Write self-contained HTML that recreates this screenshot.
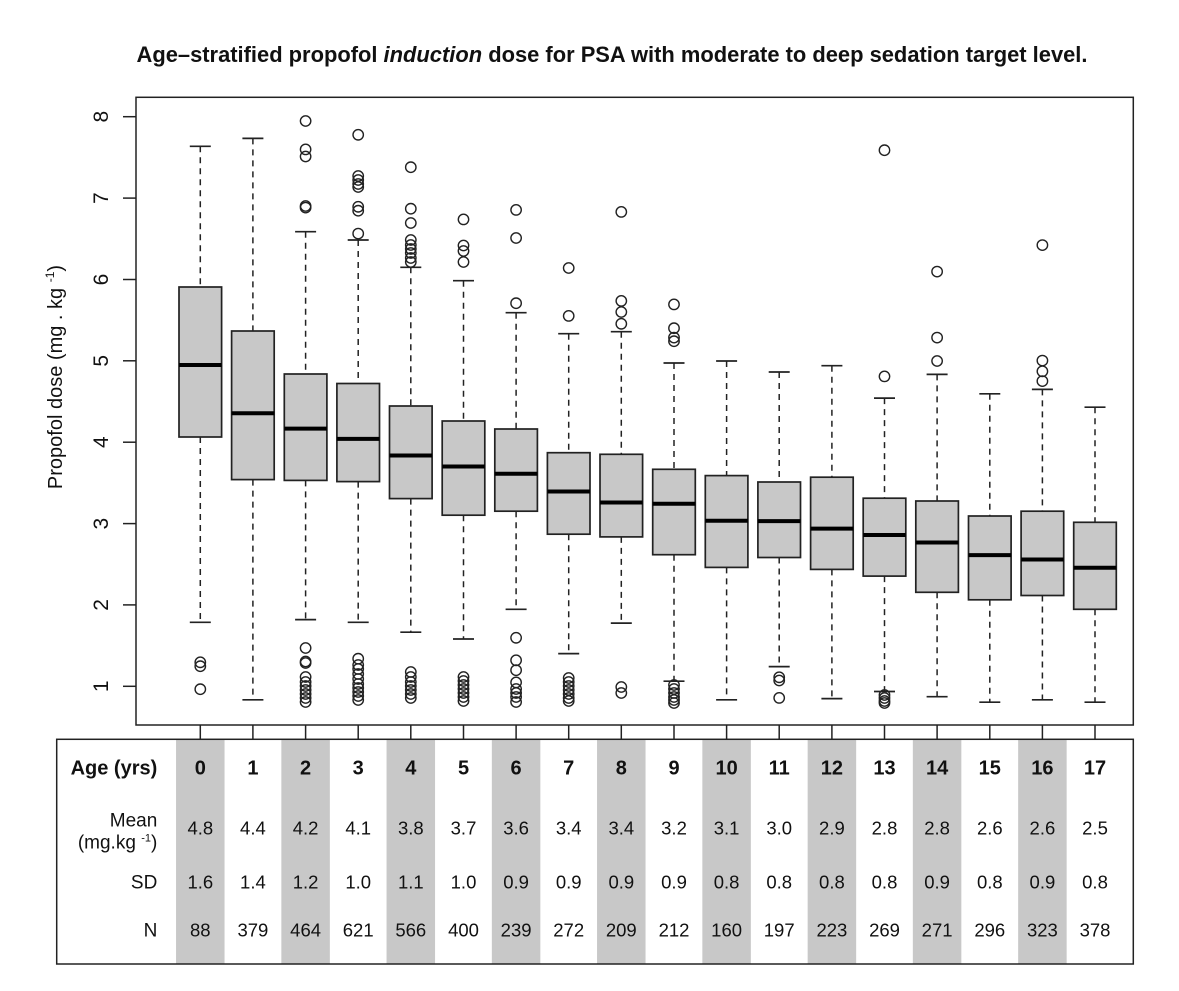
<!DOCTYPE html>
<html>
<head>
<meta charset="utf-8">
<style>
html,body{margin:0;padding:0;background:#fff;}
svg{display:block;font-family:"Liberation Sans",Arial,sans-serif;}
.w{stroke:#222;stroke-width:1.5;stroke-dasharray:6 5;fill:none}
.c{stroke:#222;stroke-width:1.7}
.b{fill:#c8c8c8;stroke:#222;stroke-width:1.7}
.m{stroke:#000;stroke-width:4}
circle{fill:none;stroke:#222;stroke-width:1.4}
.ax{stroke:#222;stroke-width:1.5;fill:none}
.hd{font-weight:bold;font-size:20px;fill:#111;text-anchor:middle}
.v{font-size:18.5px;fill:#111;text-anchor:middle}
.lb{font-size:19px;fill:#111;text-anchor:end}
</style>
</head>
<body>
<svg width="1179" height="991" viewBox="0 0 1179 991" xmlns="http://www.w3.org/2000/svg">
<rect x="0" y="0" width="1179" height="991" fill="#fff"/>

<!-- Title -->
<text x="612" y="62" text-anchor="middle" font-size="22" font-weight="bold" fill="#111" textLength="951" lengthAdjust="spacingAndGlyphs">Age–stratified propofol <tspan font-style="italic">induction</tspan> dose for PSA with moderate to deep sedation target level.</text>

<!-- Y label -->
<text transform="translate(62,377) rotate(-90)" text-anchor="middle" font-size="20" fill="#111">Propofol dose (mg . kg <tspan font-size="12" dy="-8">-1</tspan><tspan dy="8">)</tspan></text>

<!-- Y axis ticks -->
<g class="ax">
<line x1="123" x2="136" y1="686.3" y2="686.3"/>
<line x1="123" x2="136" y1="604.9" y2="604.9"/>
<line x1="123" x2="136" y1="523.6" y2="523.6"/>
<line x1="123" x2="136" y1="442.2" y2="442.2"/>
<line x1="123" x2="136" y1="360.8" y2="360.8"/>
<line x1="123" x2="136" y1="279.5" y2="279.5"/>
<line x1="123" x2="136" y1="198.1" y2="198.1"/>
<line x1="123" x2="136" y1="116.7" y2="116.7"/>
</g>
<g font-size="21" fill="#111" text-anchor="middle">
<text transform="translate(108,686.3) rotate(-90)">1</text>
<text transform="translate(108,604.9) rotate(-90)">2</text>
<text transform="translate(108,523.6) rotate(-90)">3</text>
<text transform="translate(108,442.2) rotate(-90)">4</text>
<text transform="translate(108,360.8) rotate(-90)">5</text>
<text transform="translate(108,279.5) rotate(-90)">6</text>
<text transform="translate(108,198.1) rotate(-90)">7</text>
<text transform="translate(108,116.7) rotate(-90)">8</text>
</g>

<!-- Table shaded columns -->
<g fill="#c8c8c8">
<rect x="176.05" y="739.3" width="48.5" height="224.7"/>
<rect x="281.35" y="739.3" width="48.5" height="224.7"/>
<rect x="386.55" y="739.3" width="48.5" height="224.7"/>
<rect x="491.85" y="739.3" width="48.5" height="224.7"/>
<rect x="597.05" y="739.3" width="48.5" height="224.7"/>
<rect x="702.35" y="739.3" width="48.5" height="224.7"/>
<rect x="807.65" y="739.3" width="48.5" height="224.7"/>
<rect x="912.85" y="739.3" width="48.5" height="224.7"/>
<rect x="1018.15" y="739.3" width="48.5" height="224.7"/>
</g>

<!-- X ticks -->
<g class="ax">
<line x1="200.3" x2="200.3" y1="725" y2="739"/>
<line x1="252.9" x2="252.9" y1="725" y2="739"/>
<line x1="305.6" x2="305.6" y1="725" y2="739"/>
<line x1="358.2" x2="358.2" y1="725" y2="739"/>
<line x1="410.8" x2="410.8" y1="725" y2="739"/>
<line x1="463.5" x2="463.5" y1="725" y2="739"/>
<line x1="516.1" x2="516.1" y1="725" y2="739"/>
<line x1="568.7" x2="568.7" y1="725" y2="739"/>
<line x1="621.3" x2="621.3" y1="725" y2="739"/>
<line x1="674.0" x2="674.0" y1="725" y2="739"/>
<line x1="726.6" x2="726.6" y1="725" y2="739"/>
<line x1="779.2" x2="779.2" y1="725" y2="739"/>
<line x1="831.9" x2="831.9" y1="725" y2="739"/>
<line x1="884.5" x2="884.5" y1="725" y2="739"/>
<line x1="937.1" x2="937.1" y1="725" y2="739"/>
<line x1="989.8" x2="989.8" y1="725" y2="739"/>
<line x1="1042.4" x2="1042.4" y1="725" y2="739"/>
<line x1="1095.0" x2="1095.0" y1="725" y2="739"/>
</g>

<!-- Boxes -->
<g transform="translate(200.3,0)">
<line class="w" x1="0" x2="0" y1="146.3" y2="287"/>
<line class="w" x1="0" x2="0" y1="437" y2="622.3"/>
<line class="c" x1="-10.5" x2="10.5" y1="146.3" y2="146.3"/>
<line class="c" x1="-10.5" x2="10.5" y1="622.3" y2="622.3"/>
<rect class="b" x="-21.3" y="287" width="42.6" height="150"/>
<line class="m" x1="-21.3" x2="21.3" y1="365" y2="365"/>
<circle cx="0" cy="662.3" r="5.2"/><circle cx="0" cy="666.2" r="5.2"/><circle cx="0" cy="689.2" r="5.2"/>
</g>
<g transform="translate(252.9,0)">
<line class="w" x1="0" x2="0" y1="138.4" y2="331"/>
<line class="w" x1="0" x2="0" y1="479.6" y2="699.8"/>
<line class="c" x1="-10.5" x2="10.5" y1="138.4" y2="138.4"/>
<line class="c" x1="-10.5" x2="10.5" y1="699.8" y2="699.8"/>
<rect class="b" x="-21.3" y="331" width="42.6" height="148.6"/>
<line class="m" x1="-21.3" x2="21.3" y1="413.2" y2="413.2"/>
</g>
<g transform="translate(305.6,0)">
<line class="w" x1="0" x2="0" y1="231.7" y2="374"/>
<line class="w" x1="0" x2="0" y1="480.4" y2="619.6"/>
<line class="c" x1="-10.5" x2="10.5" y1="231.7" y2="231.7"/>
<line class="c" x1="-10.5" x2="10.5" y1="619.6" y2="619.6"/>
<rect class="b" x="-21.3" y="374" width="42.6" height="106.4"/>
<line class="m" x1="-21.3" x2="21.3" y1="428.6" y2="428.6"/>
<circle cx="0" cy="121" r="5.2"/><circle cx="0" cy="149.4" r="5.2"/><circle cx="0" cy="156.5" r="5.2"/><circle cx="0" cy="206" r="5.2"/><circle cx="0" cy="207.6" r="5.2"/>
<circle cx="0" cy="648" r="5.2"/><circle cx="0" cy="661.5" r="5.2"/><circle cx="0" cy="663" r="5.2"/><circle cx="0" cy="677" r="5.2"/><circle cx="0" cy="682" r="5.2"/><circle cx="0" cy="686" r="5.2"/><circle cx="0" cy="690" r="5.2"/><circle cx="0" cy="694" r="5.2"/><circle cx="0" cy="698" r="5.2"/><circle cx="0" cy="702" r="5.2"/>
</g>
<g transform="translate(358.2,0)">
<line class="w" x1="0" x2="0" y1="240" y2="383.5"/>
<line class="w" x1="0" x2="0" y1="481.6" y2="622.3"/>
<line class="c" x1="-10.5" x2="10.5" y1="240" y2="240"/>
<line class="c" x1="-10.5" x2="10.5" y1="622.3" y2="622.3"/>
<rect class="b" x="-21.3" y="383.5" width="42.6" height="98.1"/>
<line class="m" x1="-21.3" x2="21.3" y1="438.9" y2="438.9"/>
<circle cx="0" cy="134.8" r="5.2"/><circle cx="0" cy="176" r="5.2"/><circle cx="0" cy="180" r="5.2"/><circle cx="0" cy="184" r="5.2"/><circle cx="0" cy="187" r="5.2"/><circle cx="0" cy="206.8" r="5.2"/><circle cx="0" cy="210.7" r="5.2"/><circle cx="0" cy="233.6" r="5.2"/>
<circle cx="0" cy="658.7" r="5.2"/><circle cx="0" cy="665" r="5.2"/><circle cx="0" cy="669" r="5.2"/><circle cx="0" cy="674" r="5.2"/><circle cx="0" cy="679" r="5.2"/><circle cx="0" cy="684" r="5.2"/><circle cx="0" cy="688" r="5.2"/><circle cx="0" cy="692" r="5.2"/><circle cx="0" cy="696" r="5.2"/><circle cx="0" cy="700" r="5.2"/>
</g>
<g transform="translate(410.8,0)">
<line class="w" x1="0" x2="0" y1="267.3" y2="406"/>
<line class="w" x1="0" x2="0" y1="498.6" y2="632.2"/>
<line class="c" x1="-10.5" x2="10.5" y1="267.3" y2="267.3"/>
<line class="c" x1="-10.5" x2="10.5" y1="632.2" y2="632.2"/>
<rect class="b" x="-21.3" y="406" width="42.6" height="92.6"/>
<line class="m" x1="-21.3" x2="21.3" y1="455.5" y2="455.5"/>
<circle cx="0" cy="167.2" r="5.2"/><circle cx="0" cy="208.7" r="5.2"/><circle cx="0" cy="223" r="5.2"/><circle cx="0" cy="240" r="5.2"/><circle cx="0" cy="245" r="5.2"/><circle cx="0" cy="249" r="5.2"/><circle cx="0" cy="253" r="5.2"/><circle cx="0" cy="258" r="5.2"/><circle cx="0" cy="262" r="5.2"/>
<circle cx="0" cy="672" r="5.2"/><circle cx="0" cy="677" r="5.2"/><circle cx="0" cy="682" r="5.2"/><circle cx="0" cy="686" r="5.2"/><circle cx="0" cy="690" r="5.2"/><circle cx="0" cy="694" r="5.2"/><circle cx="0" cy="698" r="5.2"/>
</g>
<g transform="translate(463.5,0)">
<line class="w" x1="0" x2="0" y1="280.7" y2="421"/>
<line class="w" x1="0" x2="0" y1="515.2" y2="639"/>
<line class="c" x1="-10.5" x2="10.5" y1="280.7" y2="280.7"/>
<line class="c" x1="-10.5" x2="10.5" y1="639" y2="639"/>
<rect class="b" x="-21.3" y="421" width="42.6" height="94.2"/>
<line class="m" x1="-21.3" x2="21.3" y1="466.5" y2="466.5"/>
<circle cx="0" cy="219.4" r="5.2"/><circle cx="0" cy="245.5" r="5.2"/><circle cx="0" cy="251" r="5.2"/><circle cx="0" cy="262" r="5.2"/>
<circle cx="0" cy="677" r="5.2"/><circle cx="0" cy="681" r="5.2"/><circle cx="0" cy="685" r="5.2"/><circle cx="0" cy="689" r="5.2"/><circle cx="0" cy="693" r="5.2"/><circle cx="0" cy="697" r="5.2"/><circle cx="0" cy="701" r="5.2"/>
</g>
<g transform="translate(516.1,0)">
<line class="w" x1="0" x2="0" y1="312.7" y2="429"/>
<line class="w" x1="0" x2="0" y1="511.2" y2="609.3"/>
<line class="c" x1="-10.5" x2="10.5" y1="312.7" y2="312.7"/>
<line class="c" x1="-10.5" x2="10.5" y1="609.3" y2="609.3"/>
<rect class="b" x="-21.3" y="429" width="42.6" height="82.2"/>
<line class="m" x1="-21.3" x2="21.3" y1="473.7" y2="473.7"/>
<circle cx="0" cy="209.9" r="5.2"/><circle cx="0" cy="238" r="5.2"/><circle cx="0" cy="303.2" r="5.2"/>
<circle cx="0" cy="637.8" r="5.2"/><circle cx="0" cy="660.3" r="5.2"/><circle cx="0" cy="670.2" r="5.2"/><circle cx="0" cy="682.4" r="5.2"/><circle cx="0" cy="689" r="5.2"/><circle cx="0" cy="693" r="5.2"/><circle cx="0" cy="697" r="5.2"/><circle cx="0" cy="702" r="5.2"/>
</g>
<g transform="translate(568.7,0)">
<line class="w" x1="0" x2="0" y1="333.7" y2="452.7"/>
<line class="w" x1="0" x2="0" y1="534.2" y2="653.6"/>
<line class="c" x1="-10.5" x2="10.5" y1="333.7" y2="333.7"/>
<line class="c" x1="-10.5" x2="10.5" y1="653.6" y2="653.6"/>
<rect class="b" x="-21.3" y="452.7" width="42.6" height="81.5"/>
<line class="m" x1="-21.3" x2="21.3" y1="491.5" y2="491.5"/>
<circle cx="0" cy="268" r="5.2"/><circle cx="0" cy="315.9" r="5.2"/>
<circle cx="0" cy="678" r="5.2"/><circle cx="0" cy="682" r="5.2"/><circle cx="0" cy="686" r="5.2"/><circle cx="0" cy="690" r="5.2"/><circle cx="0" cy="694" r="5.2"/><circle cx="0" cy="698" r="5.2"/><circle cx="0" cy="701" r="5.2"/>
</g>
<g transform="translate(621.3,0)">
<line class="w" x1="0" x2="0" y1="331.7" y2="454.3"/>
<line class="w" x1="0" x2="0" y1="536.9" y2="623.1"/>
<line class="c" x1="-10.5" x2="10.5" y1="331.7" y2="331.7"/>
<line class="c" x1="-10.5" x2="10.5" y1="623.1" y2="623.1"/>
<rect class="b" x="-21.3" y="454.3" width="42.6" height="82.6"/>
<line class="m" x1="-21.3" x2="21.3" y1="502.5" y2="502.5"/>
<circle cx="0" cy="211.9" r="5.2"/><circle cx="0" cy="300.9" r="5.2"/><circle cx="0" cy="312" r="5.2"/><circle cx="0" cy="323.8" r="5.2"/>
<circle cx="0" cy="687" r="5.2"/><circle cx="0" cy="693" r="5.2"/>
</g>
<g transform="translate(674.0,0)">
<line class="w" x1="0" x2="0" y1="363" y2="469.3"/>
<line class="w" x1="0" x2="0" y1="554.7" y2="681.2"/>
<line class="c" x1="-10.5" x2="10.5" y1="363" y2="363"/>
<line class="c" x1="-10.5" x2="10.5" y1="681.2" y2="681.2"/>
<rect class="b" x="-21.3" y="469.3" width="42.6" height="85.4"/>
<line class="m" x1="-21.3" x2="21.3" y1="503.7" y2="503.7"/>
<circle cx="0" cy="304.4" r="5.2"/><circle cx="0" cy="328.2" r="5.2"/><circle cx="0" cy="337.6" r="5.2"/><circle cx="0" cy="341.2" r="5.2"/>
<circle cx="0" cy="685" r="5.2"/><circle cx="0" cy="689" r="5.2"/><circle cx="0" cy="693" r="5.2"/><circle cx="0" cy="697" r="5.2"/><circle cx="0" cy="700" r="5.2"/><circle cx="0" cy="703" r="5.2"/>
</g>
<g transform="translate(726.6,0)">
<line class="w" x1="0" x2="0" y1="361" y2="475.6"/>
<line class="w" x1="0" x2="0" y1="567.4" y2="699.8"/>
<line class="c" x1="-10.5" x2="10.5" y1="361" y2="361"/>
<line class="c" x1="-10.5" x2="10.5" y1="699.8" y2="699.8"/>
<rect class="b" x="-21.3" y="475.6" width="42.6" height="91.8"/>
<line class="m" x1="-21.3" x2="21.3" y1="520.7" y2="520.7"/>
</g>
<g transform="translate(779.2,0)">
<line class="w" x1="0" x2="0" y1="372" y2="482"/>
<line class="w" x1="0" x2="0" y1="557.5" y2="666.6"/>
<line class="c" x1="-10.5" x2="10.5" y1="372" y2="372"/>
<line class="c" x1="-10.5" x2="10.5" y1="666.6" y2="666.6"/>
<rect class="b" x="-21.3" y="482" width="42.6" height="75.5"/>
<line class="m" x1="-21.3" x2="21.3" y1="521.1" y2="521.1"/>
<circle cx="0" cy="677.3" r="5.2"/><circle cx="0" cy="680.5" r="5.2"/><circle cx="0" cy="697.9" r="5.2"/>
</g>
<g transform="translate(831.9,0)">
<line class="w" x1="0" x2="0" y1="365.7" y2="477.2"/>
<line class="w" x1="0" x2="0" y1="569.4" y2="698.6"/>
<line class="c" x1="-10.5" x2="10.5" y1="365.7" y2="365.7"/>
<line class="c" x1="-10.5" x2="10.5" y1="698.6" y2="698.6"/>
<rect class="b" x="-21.3" y="477.2" width="42.6" height="92.2"/>
<line class="m" x1="-21.3" x2="21.3" y1="528.6" y2="528.6"/>
</g>
<g transform="translate(884.5,0)">
<line class="w" x1="0" x2="0" y1="398.1" y2="498.2"/>
<line class="w" x1="0" x2="0" y1="576.1" y2="691.5"/>
<line class="c" x1="-10.5" x2="10.5" y1="398.1" y2="398.1"/>
<line class="c" x1="-10.5" x2="10.5" y1="691.5" y2="691.5"/>
<rect class="b" x="-21.3" y="498.2" width="42.6" height="77.9"/>
<line class="m" x1="-21.3" x2="21.3" y1="535" y2="535"/>
<circle cx="0" cy="150.2" r="5.2"/><circle cx="0" cy="376.4" r="5.2"/>
<circle cx="0" cy="695" r="5.2"/><circle cx="0" cy="698" r="5.2"/><circle cx="0" cy="701" r="5.2"/><circle cx="0" cy="703" r="5.2"/>
</g>
<g transform="translate(937.1,0)">
<line class="w" x1="0" x2="0" y1="374.4" y2="501"/>
<line class="w" x1="0" x2="0" y1="592.3" y2="696.7"/>
<line class="c" x1="-10.5" x2="10.5" y1="374.4" y2="374.4"/>
<line class="c" x1="-10.5" x2="10.5" y1="696.7" y2="696.7"/>
<rect class="b" x="-21.3" y="501" width="42.6" height="91.3"/>
<line class="m" x1="-21.3" x2="21.3" y1="542.5" y2="542.5"/>
<circle cx="0" cy="271.6" r="5.2"/><circle cx="0" cy="337.6" r="5.2"/><circle cx="0" cy="361" r="5.2"/>
</g>
<g transform="translate(989.8,0)">
<line class="w" x1="0" x2="0" y1="393.8" y2="516"/>
<line class="w" x1="0" x2="0" y1="599.8" y2="702.2"/>
<line class="c" x1="-10.5" x2="10.5" y1="393.8" y2="393.8"/>
<line class="c" x1="-10.5" x2="10.5" y1="702.2" y2="702.2"/>
<rect class="b" x="-21.3" y="516" width="42.6" height="83.8"/>
<line class="m" x1="-21.3" x2="21.3" y1="555.1" y2="555.1"/>
</g>
<g transform="translate(1042.4,0)">
<line class="w" x1="0" x2="0" y1="389.4" y2="511.2"/>
<line class="w" x1="0" x2="0" y1="595.5" y2="699.8"/>
<line class="c" x1="-10.5" x2="10.5" y1="389.4" y2="389.4"/>
<line class="c" x1="-10.5" x2="10.5" y1="699.8" y2="699.8"/>
<rect class="b" x="-21.3" y="511.2" width="42.6" height="84.3"/>
<line class="m" x1="-21.3" x2="21.3" y1="559.5" y2="559.5"/>
<circle cx="0" cy="245.1" r="5.2"/><circle cx="0" cy="360.6" r="5.2"/><circle cx="0" cy="371.3" r="5.2"/><circle cx="0" cy="381.1" r="5.2"/>
</g>
<g transform="translate(1095.0,0)">
<line class="w" x1="0" x2="0" y1="407.2" y2="522.3"/>
<line class="w" x1="0" x2="0" y1="609.3" y2="702.2"/>
<line class="c" x1="-10.5" x2="10.5" y1="407.2" y2="407.2"/>
<line class="c" x1="-10.5" x2="10.5" y1="702.2" y2="702.2"/>
<rect class="b" x="-21.3" y="522.3" width="42.6" height="87"/>
<line class="m" x1="-21.3" x2="21.3" y1="567.8" y2="567.8"/>
</g>

<!-- Plot frame -->
<rect class="ax" x="136" y="97.3" width="997.3" height="627.7"/>

<!-- Table frame -->
<rect class="ax" x="56.7" y="739.3" width="1076.6" height="224.7"/>

<!-- Table labels -->
<text x="157.3" y="774.5" font-size="20" font-weight="bold" fill="#111" text-anchor="end">Age (yrs)</text>
<text class="lb" x="157.3" y="826.7">Mean</text>
<text class="lb" x="157.3" y="848.3">(mg.kg <tspan font-size="11" dy="-7">-1</tspan><tspan dy="7">)</tspan></text>
<text class="lb" x="157.3" y="888.3">SD</text>
<text class="lb" x="157.3" y="936.7">N</text>

<g class="hd">
<text x="200.3" y="774.5">0</text>
<text x="252.9" y="774.5">1</text>
<text x="305.6" y="774.5">2</text>
<text x="358.2" y="774.5">3</text>
<text x="410.8" y="774.5">4</text>
<text x="463.5" y="774.5">5</text>
<text x="516.1" y="774.5">6</text>
<text x="568.7" y="774.5">7</text>
<text x="621.3" y="774.5">8</text>
<text x="674.0" y="774.5">9</text>
<text x="726.6" y="774.5">10</text>
<text x="779.2" y="774.5">11</text>
<text x="831.9" y="774.5">12</text>
<text x="884.5" y="774.5">13</text>
<text x="937.1" y="774.5">14</text>
<text x="989.8" y="774.5">15</text>
<text x="1042.4" y="774.5">16</text>
<text x="1095.0" y="774.5">17</text>
</g>

<g class="v">
<text x="200.3" y="834.3">4.8</text>
<text x="252.9" y="834.3">4.4</text>
<text x="305.6" y="834.3">4.2</text>
<text x="358.2" y="834.3">4.1</text>
<text x="410.8" y="834.3">3.8</text>
<text x="463.5" y="834.3">3.7</text>
<text x="516.1" y="834.3">3.6</text>
<text x="568.7" y="834.3">3.4</text>
<text x="621.3" y="834.3">3.4</text>
<text x="674.0" y="834.3">3.2</text>
<text x="726.6" y="834.3">3.1</text>
<text x="779.2" y="834.3">3.0</text>
<text x="831.9" y="834.3">2.9</text>
<text x="884.5" y="834.3">2.8</text>
<text x="937.1" y="834.3">2.8</text>
<text x="989.8" y="834.3">2.6</text>
<text x="1042.4" y="834.3">2.6</text>
<text x="1095.0" y="834.3">2.5</text>
</g>

<g class="v">
<text x="200.3" y="888.3">1.6</text>
<text x="252.9" y="888.3">1.4</text>
<text x="305.6" y="888.3">1.2</text>
<text x="358.2" y="888.3">1.0</text>
<text x="410.8" y="888.3">1.1</text>
<text x="463.5" y="888.3">1.0</text>
<text x="516.1" y="888.3">0.9</text>
<text x="568.7" y="888.3">0.9</text>
<text x="621.3" y="888.3">0.9</text>
<text x="674.0" y="888.3">0.9</text>
<text x="726.6" y="888.3">0.8</text>
<text x="779.2" y="888.3">0.8</text>
<text x="831.9" y="888.3">0.8</text>
<text x="884.5" y="888.3">0.8</text>
<text x="937.1" y="888.3">0.9</text>
<text x="989.8" y="888.3">0.8</text>
<text x="1042.4" y="888.3">0.9</text>
<text x="1095.0" y="888.3">0.8</text>
</g>

<g class="v">
<text x="200.3" y="936.7">88</text>
<text x="252.9" y="936.7">379</text>
<text x="305.6" y="936.7">464</text>
<text x="358.2" y="936.7">621</text>
<text x="410.8" y="936.7">566</text>
<text x="463.5" y="936.7">400</text>
<text x="516.1" y="936.7">239</text>
<text x="568.7" y="936.7">272</text>
<text x="621.3" y="936.7">209</text>
<text x="674.0" y="936.7">212</text>
<text x="726.6" y="936.7">160</text>
<text x="779.2" y="936.7">197</text>
<text x="831.9" y="936.7">223</text>
<text x="884.5" y="936.7">269</text>
<text x="937.1" y="936.7">271</text>
<text x="989.8" y="936.7">296</text>
<text x="1042.4" y="936.7">323</text>
<text x="1095.0" y="936.7">378</text>
</g>
</svg>
</body>
</html>
